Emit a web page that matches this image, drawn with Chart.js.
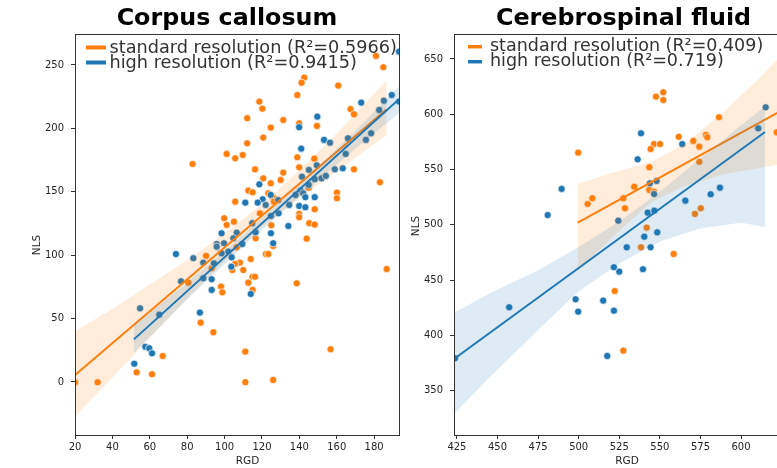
<!DOCTYPE html>
<html>
<head>
<meta charset="utf-8">
<script src="https://cdn.jsdelivr.net/npm/chart.js@4.4.1/dist/chart.umd.min.js"></script>
<style>
html, body { margin: 0; padding: 0; background: #fff; width: 777px; height: 468px; overflow: hidden; }
canvas { position: absolute; top: 0; }
</style>
</head>
<body>
<canvas id="cc" width="454" height="468" style="left:0"></canvas>
<canvas id="csf" width="447" height="468" style="left:400px"></canvas>
<script>
const ORANGE = '#ff7f0e';
const BLUE = '#1f77b4';

// ---- Corpus callosum ----
const ccStdRgd = [181.0, 184.9, 142.6, 141.2, 160.8, 138.9, 118.6, 120.2, 167.4, 169.2, 112.1, 131.4, 139.9, 149.4, 124.7,
  120.7, 112.1, 82.9, 101.1, 105.7, 109.7, 116.3, 138.9, 148.0, 139.9, 169.2, 131.4, 112.7, 115.0, 105.7,
  118.9, 99.8, 101.1, 105.0, 116.6, 106.5, 98.1, 90.1, 114.0, 120.7, 130.0, 124.7, 183.1, 145.0, 123.4,
  126.0, 126.4, 160.1, 160.1, 139.9, 139.9, 148.2, 125.0, 145.3, 148.2, 143.9, 126.0, 122.1, 123.4, 108.2,
  110.0, 186.7, 115.0, 116.3, 112.7, 138.6, 115.0, 93.1, 104.1, 105.6, 98.1, 98.8, 80.6, 87.2, 94.0,
  66.9, 53.0, 61.2, 111.1, 111.1, 126.0, 156.7, 32.1, 20.0];
const ccStdNls = [257.1, 248.2, 240.0, 236.0, 233.7, 226.3, 221.1, 215.5, 215.1, 211.1, 208.0, 206.6, 204.0, 201.9, 200.6,
  192.7, 188.2, 171.9, 179.8, 176.4, 179.0, 167.7, 177.2, 176.1, 169.3, 167.7, 165.1, 150.9, 149.6, 142.2,
  133.0, 129.1, 123.8, 126.4, 113.3, 106.2, 102.0, 99.4, 97.0, 160.6, 159.3, 156.7, 157.5, 153.2, 148.8,
  145.3, 142.2, 149.3, 144.9, 132.5, 129.9, 136.2, 123.6, 125.2, 124.1, 113.0, 107.3, 100.9, 100.9, 94.1,
  88.3, 89.1, 83.0, 83.0, 78.3, 77.8, 72.6, 89.7, 88.3, 93.1, 75.2, 70.7, 78.3, 46.8, 39.2,
  20.5, 7.6, 6.1, 23.9, -0.2, 1.6, 25.8, -0.2, -0.2];
const ccHighRgd = [193.3, 189.4, 193.4, 173.1, 185.2, 149.6, 139.9, 153.2, 156.4, 166.0, 178.4, 175.6, 141.0, 164.8, 149.3,
  145.1, 159.0, 163.2, 141.4, 148.3, 151.9, 154.2, 145.0, 118.6, 140.7, 142.1, 143.2, 124.7, 120.4, 128.7,
  138.0, 148.2, 111.1, 117.7, 122.0, 134.6, 139.9, 143.2, 128.9, 124.8, 114.8, 98.4, 106.5, 104.7, 109.5,
  95.8, 95.8, 99.7, 102.0, 98.4, 74.0, 83.3, 103.8, 88.6, 94.3, 103.6, 88.6, 93.1, 93.1, 114.0,
  76.7, 86.8, 65.1, 54.8, 57.6, 59.7, 61.2, 51.7, 134.1, 124.8, 116.6, 126.0, 182.7];
const ccHighNls = [260.5, 226.3, 221.1, 220.3, 221.8, 209.2, 200.9, 190.9, 188.7, 192.2, 196.1, 190.9, 184.0, 179.8, 170.9,
  167.2, 167.7, 168.5, 161.9, 159.9, 160.6, 162.5, 155.4, 155.9, 150.9, 148.8, 145.7, 147.5, 144.1, 143.5,
  147.5, 145.7, 141.4, 141.4, 139.6, 139.6, 138.8, 137.8, 133.0, 130.9, 125.2, 117.3, 117.7, 113.3, 108.8,
  108.8, 106.7, 109.4, 102.8, 101.5, 100.9, 97.6, 98.3, 94.1, 93.6, 90.9, 81.8, 81.0, 72.6, 69.4,
  79.4, 54.7, 53.1, 58.1, 27.8, 26.6, 22.6, 14.4, 123.0, 117.3, 118.1, 109.4, 214.5];
const ccStdFitRgd = [20, 186.7];
const ccStdFitNls = [5.5, 215];
const ccHighFitRgd = [51.5, 193.3];
const ccHighFitNls = [33.6, 223];
const ccStdBandRgd = [20, 40, 60, 80, 100, 120, 140, 160, 186.7];
const ccStdBandLo = [-27, 3.6, 34.8, 65.9, 95, 122, 145, 166, 195];
const ccStdBandHi = [40, 57.6, 76.8, 95.9, 117, 140, 167, 196, 238];
const ccHighBandRgd = [51.5, 80, 110, 140, 170, 193.3];
const ccHighBandLo = [23, 65, 107, 146, 184, 212];
const ccHighBandHi = [45, 78, 116, 156, 198, 233];
const ccLegend = ['standard resolution (R\u00b2=0.5966)', 'high resolution (R\u00b2=0.9415)'];

// ---- Cerebrospinal fluid ----
const csfStdRgd = [547.6, 552.1, 552.1, 586.4, 622.0, 499.7, 561.6, 578.4, 579.2, 546.4, 550.1, 570.6, 544.3, 574.3, 574.3,
  543.5, 508.4, 505.5, 527.5, 528.5, 534.2, 543.5, 546.4, 575.2, 571.6, 541.9, 538.4, 558.5, 522.2, 527.5];
const csfStdNls = [615.9, 619.9, 612.9, 597.3, 583.7, 565.3, 579.7, 581.3, 579.2, 573.1, 573.1, 575.9, 568.6, 570.7, 557.1,
  552.1, 524.1, 518.9, 524.1, 515.0, 534.5, 531.6, 530.0, 515.0, 509.9, 497.5, 479.7, 473.7, 440.2, 386.3];
const csfHighRgd = [615.2, 610.6, 538.4, 563.8, 536.3, 489.5, 543.9, 548.0, 546.4, 587.0, 581.3, 565.7, 480.9, 524.4, 542.5,
  546.6, 540.4, 548.4, 529.6, 544.3, 539.6, 521.7, 525.0, 457.2, 423.8, 498.1, 499.7, 515.1, 521.7, 517.6];
const csfHighNls = [606.3, 587.3, 582.8, 573.1, 559.3, 532.5, 537.6, 539.7, 527.9, 533.6, 527.7, 521.9, 508.9, 503.8, 511.0,
  512.8, 489.3, 493.3, 479.7, 479.7, 459.9, 461.7, 457.7, 425.5, 379.4, 432.7, 421.5, 431.5, 422.4, 381.5];
const csfStdFitRgd = [499.4, 624];
const csfStdFitNls = [502, 602.7];
const csfHighFitRgd = [423.8, 614.8];
const csfHighFitNls = [379.4, 584];
const csfStdBandRgd = [499.4, 520, 545, 565, 590, 610, 624];
const csfStdBandLo = [458, 488, 521, 535, 546, 551, 555];
const csfStdBandHi = [537, 547, 557, 573, 603, 631, 652];
const csfHighBandRgd = [423.8, 445, 475, 500, 525, 550, 575, 600, 614.8];
const csfHighBandLo = [330, 362, 405, 440, 465, 485, 497, 502, 498];
const csfHighBandHi = [421, 438, 459, 480, 503, 530, 560, 590, 607];
const csfLegend = ['standard resolution (R\u00b2=0.409)', 'high resolution (R\u00b2=0.719)'];

const pts = (xs, ys) => xs.map((x, i) => ({x: x, y: ys[i]}));
const TEXT = '#262626';
const FONT = 'DejaVu Sans';

function buildDatasets(s) {
    return [
        { data: pts(s.stdX, s.stdY), backgroundColor: ORANGE, borderColor: '#fff', borderWidth: 0.7,
          pointRadius: 3.6, order: 6, clip: 0 },
        { data: pts(s.highX, s.highY), backgroundColor: BLUE, borderColor: '#fff', borderWidth: 0.7,
          pointRadius: 3.6, order: 5, clip: 0 },
        // orange confidence band
        { data: pts(s.stdBandX, s.stdBandHi), showLine: true, pointRadius: 0, borderWidth: 0, fill: false, order: 4, clip: 0 },
        { data: pts(s.stdBandX, s.stdBandLo), showLine: true, pointRadius: 0, borderWidth: 0,
          fill: '-1', backgroundColor: 'rgba(255,127,14,0.15)', order: 4, clip: 0 },
        { data: pts(s.stdFitX, s.stdFitY), showLine: true, pointRadius: 0, borderColor: ORANGE, borderWidth: 2, order: 3, clip: 0 },
        // blue confidence band
        { data: pts(s.highBandX, s.highBandHi), showLine: true, pointRadius: 0, borderWidth: 0, fill: false, order: 2, clip: 0 },
        { data: pts(s.highBandX, s.highBandLo), showLine: true, pointRadius: 0, borderWidth: 0,
          fill: '-1', backgroundColor: 'rgba(31,119,180,0.15)', order: 2, clip: 0 },
        { data: pts(s.highFitX, s.highFitY), showLine: true, pointRadius: 0, borderColor: BLUE, borderWidth: 2, order: 1, clip: 0 }
    ];
}

// frame round the plot area, legend with line handles, axis names
const framePlugin = {
    id: 'frameLegend',
    afterDraw(chart, args, opts) {
        const ctx = chart.ctx;
        const a = chart.chartArea;
        ctx.save();
        ctx.strokeStyle = '#333';
        ctx.lineWidth = 1;
        ctx.strokeRect(Math.round(a.left) + 0.5, Math.round(a.top) + 0.5,
            Math.round(a.right - a.left), Math.round(a.bottom - a.top));
        const colors = [ORANGE, BLUE];
        ctx.font = opts.size + 'px "' + FONT + '"';
        opts.labels.forEach((txt, i) => {
            const y = opts.y + i * opts.gap;
            ctx.strokeStyle = colors[i];
            ctx.lineWidth = opts.lw;
            ctx.beginPath();
            ctx.moveTo(opts.x, y);
            ctx.lineTo(opts.x + opts.len, y);
            ctx.stroke();
            ctx.fillStyle = '#333';
            ctx.textBaseline = 'alphabetic';
            ctx.fillText(txt, opts.tx, y + opts.base);
        });
        // axis names
        ctx.fillStyle = TEXT;
        ctx.font = '10.5px "' + FONT + '"';
        ctx.textAlign = 'center';
        ctx.textBaseline = 'middle';
        ctx.fillText('RGD', opts.rgd[0], opts.rgd[1]);
        ctx.translate(opts.nls[0], opts.nls[1]);
        ctx.rotate(-Math.PI / 2);
        ctx.fillText('NLS', 0, 0);
        ctx.restore();
    }
};

function makeChart(id, cfg) {
    return new Chart(document.getElementById(id), {
        type: 'scatter',
        data: { datasets: buildDatasets(cfg.series) },
        options: {
            responsive: false,
            animation: false,
            events: [],
            layout: { padding: 0 },
            plugins: {
                legend: { display: false },
                tooltip: { enabled: false },
                title: {
                    display: true,
                    text: cfg.title,
                    color: '#000',
                    font: { family: FONT, size: 23.8, weight: 'bold', lineHeight: '28px' },
                    padding: { top: 5, bottom: 1 }
                },
                frameLegend: cfg.legend
            },
            scales: {
                y: {
                    type: 'linear', position: 'left',
                    min: cfg.yMin, max: cfg.yMax,
                    ticks: { stepSize: cfg.yStep, includeBounds: false, color: TEXT, padding: 7,
                             font: { family: FONT, size: 10 } },
                    grid: { drawOnChartArea: false, drawTicks: true, tickLength: 4, color: '#333' },
                    border: { display: false },
                    afterFit: s => { s.width = cfg.yWidth; }
                },
                x: {
                    type: 'linear', position: 'bottom',
                    min: cfg.xMin, max: cfg.xMax,
                    ticks: { stepSize: cfg.xStep, includeBounds: false, color: TEXT, padding: 2, maxRotation: 0,
                             autoSkip: false, font: { family: FONT, size: 10 } },
                    grid: { drawOnChartArea: false, drawTicks: true, tickLength: 4, color: '#333' },
                    border: { display: false },
                    afterFit: s => { s.height = 33; }
                },
                yR: {
                    type: 'linear', position: 'right', display: true,
                    ticks: { display: false }, grid: { display: false }, border: { display: false },
                    afterFit: s => { s.width = cfg.rightSpace; }
                }
            }
        },
        plugins: [framePlugin]
    });
}

makeChart('cc', {
    title: 'Corpus callosum',
    series: {
        stdX: ccStdRgd, stdY: ccStdNls, highX: ccHighRgd, highY: ccHighNls,
        stdFitX: ccStdFitRgd, stdFitY: ccStdFitNls, highFitX: ccHighFitRgd, highFitY: ccHighFitNls,
        stdBandX: ccStdBandRgd, stdBandLo: ccStdBandLo, stdBandHi: ccStdBandHi,
        highBandX: ccHighBandRgd, highBandLo: ccHighBandLo, highBandHi: ccHighBandHi
    },
    xMin: 20, xMax: 193.3, xStep: 20,
    yMin: -41.8, yMax: 274.4, yStep: 50,
    yWidth: 75, rightSpace: 55,
    legend: { labels: ccLegend, x: 86, len: 20, lw: 4, y: 47.5, gap: 15, tx: 109.5, base: 5.5, size: 17.7,
              rgd: [247.5, 461.5], nls: [37, 245] }
});

makeChart('csf', {
    title: 'Cerebrospinal fluid',
    series: {
        stdX: csfStdRgd, stdY: csfStdNls, highX: csfHighRgd, highY: csfHighNls,
        stdFitX: csfStdFitRgd, stdFitY: csfStdFitNls, highFitX: csfHighFitRgd, highFitY: csfHighFitNls,
        stdBandX: csfStdBandRgd, stdBandLo: csfStdBandLo, stdBandHi: csfStdBandHi,
        highBandX: csfHighBandRgd, highBandLo: csfHighBandLo, highBandHi: csfHighBandHi
    },
    xMin: 423.2, xMax: 624, xStep: 25,
    yMin: 310, yMax: 672.6, yStep: 50,
    yWidth: 54, rightSpace: 67,
    legend: { labels: csfLegend, x: 68, len: 14, lw: 3.5, y: 46.7, gap: 15, tx: 90, base: 4, size: 17.5,
              rgd: [227, 461.5], nls: [16, 226] }
});
</script>
</body>
</html>
